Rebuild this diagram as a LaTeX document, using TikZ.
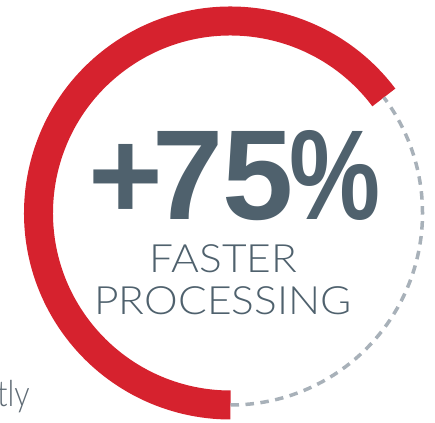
\documentclass[tikz,border=0pt]{standalone}
\usepackage{fontspec}
\usetikzlibrary{calc}
\setmainfont{Liberation Sans}
\newfontfamily\lightfont{Lato}[UprightFont={* Light}]
\definecolor{ringred}{HTML}{D6222E}
\definecolor{slate}{HTML}{4F616D}
\definecolor{dashgray}{HTML}{A8B1B9}
\definecolor{sidegray}{HTML}{5F6B75}
\tikzset{
  redring/.style={draw=ringred, line width=29pt, line cap=butt},
  dashring/.style={draw=dashgray, line width=3.5pt, dash pattern=on 8.5pt off 6.5pt},
  bigtext/.style={inner sep=0pt, text=slate, font=\fontsize{128}{128}\selectfont\bfseries},
  lighttext/.style={inner sep=0pt, text=slate, font=\lightfont\fontsize{39}{39}\selectfont},
  sidetext/.style={inner sep=0pt, text=sidegray, font=\lightfont\fontsize{36}{36}\selectfont}
}
\begin{document}
\begin{tikzpicture}[x=1pt,y=1pt]
\useasboundingbox (0,0) rectangle (435,422);
\coordinate (c) at (230.5,209);
\coordinate (ringend) at ($(c)+(37:192)$);
\coordinate (ringbottom) at ($(c)+(270:192)$);
\draw[redring] (ringend) arc[start angle=37, end angle=270, radius=192];
\draw[dashring] (ringbottom) arc[start angle=-90, end angle=37, radius=192];
\node[bigtext, anchor=base west] (big) at (88,202) {+\kern-11pt7\kern-1pt5\kern-4pt\scalebox{0.8}[1]{\%}};
\node[lighttext, anchor=base] (faster) at (223.5,149) {\scalebox{1.09}[1]{FASTER}};
\node[lighttext, anchor=base] (proc) at (223,107) {\scalebox{1.09}[1]{PROCESSING}};
\node[sidetext, anchor=base east] (side) at (30,16) {\scalebox{0.85}[1]{tly}};
\end{tikzpicture}
\end{document}
